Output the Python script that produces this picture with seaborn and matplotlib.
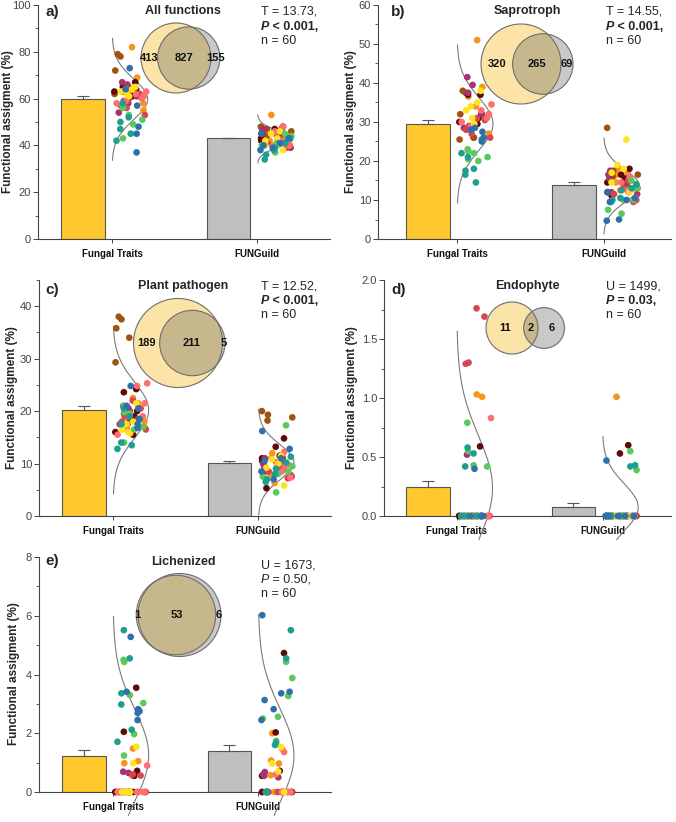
import numpy as np
import pandas as pd
import seaborn as sns
import matplotlib.pyplot as plt
from matplotlib.patches import Circle
from matplotlib.ticker import MultipleLocator, FormatStrFormatter

# ================= DATA =================
GROUPS = ["Fungal Traits", "FUNGuild"]

# 60 samples, 6 per site, in this site order
SITES = ["orange", "brown", "maroon", "magenta", "crimson",
         "salmon", "yellow", "green", "teal", "blue"]
SITE_COLORS = ["#F7941D", "#A0520F", "#5C0A0A", "#A8336E", "#D94452",
               "#FF6F6F", "#FFE41C", "#5BC85B", "#1E9E8E", "#2E70A8"]

# a) all functions
FT_ALL = [82, 69, 66, 63, 58, 55,   79, 78, 72, 65, 62, 60,   67, 65, 64, 64, 63, 61,
          67, 66, 63, 61, 58, 54,   64, 62, 59, 57, 56, 53,   63, 62, 61, 60, 59, 58,
          65, 64, 64, 63, 62, 61,   57, 56, 53, 51, 49, 43,   58, 52, 50, 47, 45, 42,
          73, 64, 57, 48, 45, 37]
FG_ALL = [53, 47, 45, 44, 42, 40,   48, 47, 46, 44, 43, 42,   48, 47, 44, 43, 42, 41,
          47, 46, 45, 43, 42, 39,   46, 44, 43, 41, 40, 39,   48, 46, 44, 42, 41, 40,
          46, 45, 43, 42, 40, 38,   45, 44, 43, 41, 40, 37,   43, 41, 39, 38, 36, 34,
          45, 43, 41, 40, 39, 38]

# b) saprotroph
FT_SAP = [51, 39, 36.5, 34, 32, 27,   38, 37.5, 32, 26, 25.5, 26,   37, 37, 32, 31, 30, 29.5,
          41.5, 39.5, 37.5, 32, 29, 28.5,   31, 30.5, 29, 28, 27, 26,   34.5, 33, 32, 31, 29, 30,
          38, 35, 34, 33, 31, 29.5,   23, 22.5, 22, 21, 20, 20.5,   21, 18, 17.5, 16.5, 14.5, 22,
          28.5, 28, 27.5, 26, 25, 25.5]
FG_SAP = [18, 17, 16.5, 15.5, 14.5, 12.5,   28.5, 17.5, 16.5, 16, 15, 14,   18, 16.5, 15.5, 14.5, 12, 11,
          17.5, 16.5, 15.5, 14, 12, 11.5,   15, 13, 12, 11.5, 10, 9.5,   16, 14.5, 13, 12.5, 12.5, 10.5,
          25.5, 19, 18, 17, 14.5, 12,   15, 13, 10, 10, 7.5, 6.5,   14, 13, 12.5, 10.5, 10, 9.5,
          12, 10.5, 10, 9.5, 5, 4.7]

# c) plant pathogen
FT_PAT = [22.5, 21.5, 20.5, 19, 18, 17,   38, 37.5, 35.8, 34, 29.3, 20,   24.2, 23.6, 20, 19, 16, 15.5,
          21, 20.5, 19.5, 18.5, 18, 17.5,   22, 20.5, 19, 18, 17.5, 16.5,   25.3, 24.8, 21.5, 19, 16.5, 15.5,
          21.5, 18, 17.5, 16.5, 16, 15.8,   21, 19.8, 19.5, 17, 16.5, 14,   20.5, 19, 17.5, 14, 13.5, 12.8,
          24.8, 21, 20.5, 18.5, 17.5, 16.8]
FG_PAT = [12, 11.5, 11, 10, 8, 6.3,   20, 19.3, 18.8, 18.2, 11, 10,   14.8, 13.2, 11.5, 11, 10.5, 5.3,
          11, 10, 9.5, 9, 8.5, 7.5,   10.5, 9.5, 9, 8.5, 7.8, 7.2,   12.2, 10.3, 9.8, 9.5, 8.5, 7.3,
          11.5, 10.8, 10, 9.2, 6.8, 5.8,   17.3, 9.5, 8.5, 8, 7.5, 4.5,   11.3, 10.2, 9, 8, 7, 6.5,
          16.2, 12.8, 11, 10.5, 7, 8.5]

# d) endophyte
FT_END = [1.03, 1.01, 0, 0, 0, 0,   0, 0, 0, 0, 0, 0,   0.59, 0, 0, 0, 0, 0,
          0.52, 0, 0, 0, 0, 0,   1.76, 1.69, 1.30, 1.29, 0, 0,   0.83, 0, 0, 0, 0, 0,
          0, 0, 0, 0, 0, 0,   0.79, 0.55, 0.43, 0.42, 0, 0,   0.58, 0.53, 0.42, 0, 0, 0,
          0.40, 0, 0, 0, 0, 0]
FG_END = [1.01, 0, 0, 0, 0, 0,   0, 0, 0, 0, 0, 0,   0.60, 0.53, 0, 0, 0, 0,
          0, 0, 0, 0, 0, 0,   0, 0, 0, 0, 0, 0,   0, 0, 0, 0, 0, 0,
          0, 0, 0, 0, 0, 0,   0.55, 0.39, 0, 0, 0, 0,   0.43, 0.42, 0, 0, 0, 0,
          0.47, 0, 0, 0, 0, 0]

# e) lichenized
FT_LIC = [1.48, 1.05, 0.98, 0.57, 0, 0,   0, 0, 0, 0, 0, 0,   3.55, 2.05, 0.72, 0.55, 0, 0,
          0.69, 0.65, 0, 0, 0, 0,   0.60, 0.56, 0, 0, 0, 0,   0.90, 0, 0, 0, 0, 0,
          1.54, 0.98, 0, 0, 0, 0,   4.50, 4.43, 3.30, 3.03, 1.97, 1.24,   5.51, 4.55, 3.36, 2.98, 2.12, 1.71,
          5.28, 3.41, 2.82, 2.75, 2.69, 2.45]
FG_LIC = [2.00, 1.47, 1.07, 0.97, 0.57, 0,   0, 0, 0, 0, 0, 0,   4.73, 2.03, 0.72, 0.55, 0, 0,
          0.68, 0.60, 0.55, 0.50, 0, 0,   0, 0, 0, 0, 0, 0,   1.36, 0.60, 0, 0, 0, 0,
          1.53, 0.97, 0.70, 0, 0, 0,   4.43, 3.88, 3.27, 2.56, 2.50, 1.74,   5.51, 4.55, 1.68, 1.60, 0, 0,
          6.02, 3.41, 3.36, 3.13, 2.82, 2.45]

# bar heights (mean) and standard errors, FungalTraits / FUNGuild
BAR_MEAN = {"a": [60.0, 43.0], "b": [29.6, 13.9], "c": [20.3, 10.1], "d": [0.245, 0.08], "e": [1.23, 1.38]}
BAR_SE = {"a": [1.1, 0.3], "b": [0.9, 0.7], "c": [0.7, 0.4], "d": [0.055, 0.03], "e": [0.21, 0.21]}

# Venn counts: FungalTraits only, shared, FUNGuild only
VENN = {"a": (413, 827, 155), "b": (320, 265, 69), "c": (189, 211, 5), "d": (11, 2, 6), "e": (1, 53, 6)}
TITLES = {"a": "All functions", "b": "Saprotroph", "c": "Plant pathogen", "d": "Endophyte", "e": "Lichenized"}

# stats text: first line, rest of P line, bold P?, bold rest?
STATS = {
    "a": ("T = 13.73,", " < 0.001,", True, True),
    "b": ("T = 14.55,", " < 0.001,", True, True),
    "c": ("T = 12.52,", " < 0.001,", True, True),
    "d": ("U = 1499,", " = 0.03,", True, True),
    "e": ("U = 1673,", " = 0.50,", False, False),
}
# ========================================

W, H = 676, 822
BAR_YELLOW = "#FFC82C"
BAR_GREY = "#BFBFBF"
VENN_YELLOW = "#FCE4A8"
VENN_GREY = "#C9C9C9"
VENN_TAN = "#C7B78C"
LINE = "#555555"

# pixel layout: axes box (left, right, top, bottom), xlim, y max, major, minor
LAYOUT = {
    "a": dict(box=(38, 330, 5, 239), xlim=(0.49, 2.50), ymax=100, major=20, minor=10, fmt="%d",
              ylab=(8, 122), letter=(45, 12), title=(183, 11), venn=(176, 58, 35), stats=(261, 12)),
    "b": dict(box=(378, 671, 5, 239), xlim=(0.46, 2.46), ymax=60, major=10, minor=5, fmt="%d",
              ylab=(351, 122), letter=(391, 12), title=(527, 11), venn=(521, 64, 40), stats=(606, 12)),
    "c": dict(box=(39, 331, 280, 516), xlim=(0.49, 2.50), ymax=45, major=10, minor=5, fmt="%d",
              ylab=(12, 398), letter=(45, 290), title=(183, 286), venn=(178, 343, 44.5), stats=(261, 286)),
    "d": dict(box=(384, 671, 280, 516), xlim=(0.50, 2.47), ymax=2.0, major=0.5, minor=0.25, fmt="%.1f",
              ylab=(352, 398), letter=(391, 290), title=(527, 286), venn=(512, 328, 26), stats=(606, 286)),
    "e": dict(box=(39, 331, 557, 792), xlim=(0.49, 2.50), ymax=8, major=2, minor=1, fmt="%d",
              ylab=(14, 674), letter=(45, 561), title=(183, 562), venn=(176, 615, 41.5), stats=(261, 565)),
}
POINTS = {"a": (FT_ALL, FG_ALL), "b": (FT_SAP, FG_SAP), "c": (FT_PAT, FG_PAT),
          "d": (FT_END, FG_END), "e": (FT_LIC, FG_LIC)}

sns.set_style("ticks")
plt.rcParams["font.family"] = ["Liberation Sans", "DejaVu Sans"]

fig = plt.figure(figsize=(W / 100, H / 100), dpi=100)

# overlay in pixel coordinates for Venn diagrams and texts
ov = fig.add_axes([0, 0, 1, 1])
ov.set_xlim(0, W)
ov.set_ylim(H, 0)
ov.axis("off")
ov.patch.set_visible(False)
ov.set_zorder(10)

site_per_sample = np.repeat(SITES, 6)


def lens_area(r1, r2, d):
    if d >= r1 + r2:
        return 0.0
    if d <= abs(r1 - r2):
        return np.pi * min(r1, r2) ** 2
    a1 = r1 ** 2 * np.arccos((d * d + r1 * r1 - r2 * r2) / (2 * d * r1))
    a2 = r2 ** 2 * np.arccos((d * d + r2 * r2 - r1 * r1) / (2 * d * r2))
    a3 = 0.5 * np.sqrt((-d + r1 + r2) * (d + r1 - r2) * (d - r1 + r2) * (d + r1 + r2))
    return a1 + a2 - a3


def draw_venn(counts, cx, cy, rmax):
    only_a, both, only_b = counts
    na, nb = only_a + both, only_b + both
    k = rmax / np.sqrt(max(na, nb))
    ra, rb = k * np.sqrt(na), k * np.sqrt(nb)
    target = np.pi * k * k * both
    lo, hi = abs(ra - rb), ra + rb
    for _ in range(60):
        mid = (lo + hi) / 2
        if lens_area(ra, rb, mid) > target:
            lo = mid
        else:
            hi = mid
    bx = cx + (lo + hi) / 2
    ca = Circle((cx, cy), ra, fc=VENN_YELLOW, ec="none")
    cb = Circle((bx, cy), rb, fc=VENN_GREY, ec="none")
    ov.add_patch(ca)
    ov.add_patch(cb)
    lens = Circle((cx, cy), ra, fc=VENN_TAN, ec="none")
    ov.add_patch(lens)
    lens.set_clip_path(cb)
    for c in (Circle((cx, cy), ra), Circle((bx, cy), rb)):
        c.set(fc="none", ec="#6E6E6E", lw=0.8)
        ov.add_patch(c)
    xs = [((cx - ra) + (bx - rb)) / 2, ((bx - rb) + (cx + ra)) / 2, ((cx + ra) + (bx + rb)) / 2]
    for x, n in zip(xs, counts):
        ov.text(x, cy, str(n), ha="center", va="center", fontsize=8, fontweight="bold", color="#111111")


for key, lay in LAYOUT.items():
    left, right, top, bottom = lay["box"]
    ax = fig.add_axes([left / W, 1 - bottom / H, (right - left) / W, (bottom - top) / H])
    ft, fg = POINTS[key]
    ymax = lay["ymax"]

    # bars
    sns.barplot(x=[0.8, 1.8], y=BAR_MEAN[key], hue=GROUPS, palette=[BAR_YELLOW, BAR_GREY],
                native_scale=True, width=0.3, dodge=False, errorbar=None, saturation=1,
                edgecolor=LINE, linewidth=0.8, legend=False, ax=ax)
    ax.errorbar([0.8, 1.8], BAR_MEAN[key], yerr=[[0, 0], BAR_SE[key]], fmt="none",
                ecolor=LINE, elinewidth=0.8, capsize=4.5, capthick=0.8, zorder=3)

    # normal curve fitted to each group
    for x0, vals in ((1.0, ft), (2.0, fg)):
        v = np.asarray(vals, dtype=float)
        m, s = v.mean(), v.std(ddof=1)
        yy = np.linspace(max(m - 3 * s, -0.1 * ymax), m + 3 * s, 200)
        ax.plot(x0 + 0.245 * np.exp(-0.5 * ((yy - m) / s) ** 2), yy,
                color="#7A7A7A", lw=0.8, clip_on=False, zorder=3)

    # jittered points
    df = pd.DataFrame({
        "x": np.r_[np.full(len(ft), 1.125), np.full(len(fg), 2.125)],
        "value": np.r_[ft, fg],
        "site": np.r_[site_per_sample, site_per_sample],
    })
    np.random.seed(3)
    sns.stripplot(data=df, x="x", y="value", hue="site", hue_order=SITES, palette=SITE_COLORS,
                  native_scale=True, orient="x", jitter=0.115, size=4.8, linewidth=0,
                  legend=False, ax=ax, clip_on=False, zorder=4)

    ax.set_xlim(*lay["xlim"])
    ax.set_ylim(0, ymax)
    ax.set_xlabel("")
    ax.yaxis.set_major_locator(MultipleLocator(lay["major"]))
    ax.yaxis.set_minor_locator(MultipleLocator(lay["minor"]))
    ax.yaxis.set_major_formatter(FormatStrFormatter(lay["fmt"]))
    ax.set_xticks([1, 2], GROUPS)
    ax.xaxis.set_minor_locator(plt.NullLocator())
    for lbl in ax.get_xticklabels():
        lbl.set_fontweight("bold")
    ax.tick_params(axis="y", which="major", length=3.5, width=0.7, color="#444444",
                   labelcolor="#444444", labelsize=8, pad=1.5)
    ax.tick_params(axis="y", which="minor", length=2, width=0.6, color="#444444")
    ax.tick_params(axis="x", length=3, width=0.7, color="#444444", labelsize=7, pad=4,
                   labelcolor="#111111")
    sns.despine(ax=ax)
    for sp in ("left", "bottom"):
        ax.spines[sp].set_color("#444444")
        ax.spines[sp].set_linewidth(0.8)
    ax.set_ylabel("Functional assigment (%)", fontsize=8.5, fontweight="bold", va="center")
    ax.yaxis.set_label_coords(lay["ylab"][0], lay["ylab"][1], transform=ov.transData)

    # panel letter, Venn title, Venn
    ov.text(*lay["letter"], f"{key})", ha="left", va="center", fontsize=11, fontweight="bold")
    ov.text(*lay["title"], TITLES[key], ha="center", va="center", fontsize=9, fontweight="bold")
    draw_venn(VENN[key], *lay["venn"])

    # statistics text
    first, rest, bold_p, bold_rest = STATS[key]
    sx, sy = lay["stats"]
    ov.text(sx, sy, first, ha="left", va="center", fontsize=9)
    tp = ov.text(sx, sy + 14.5, "P", ha="left", va="center", fontsize=9, fontstyle="italic",
                 fontweight="bold" if bold_p else "normal")
    ov.annotate(rest, xy=(1, 0), xycoords=tp, ha="left", va="bottom", fontsize=9,
                fontweight="bold" if bold_rest else "normal")
    ov.text(sx, sy + 29, "n = 60", ha="left", va="center", fontsize=9)

fig.savefig("out.png", dpi=100)
